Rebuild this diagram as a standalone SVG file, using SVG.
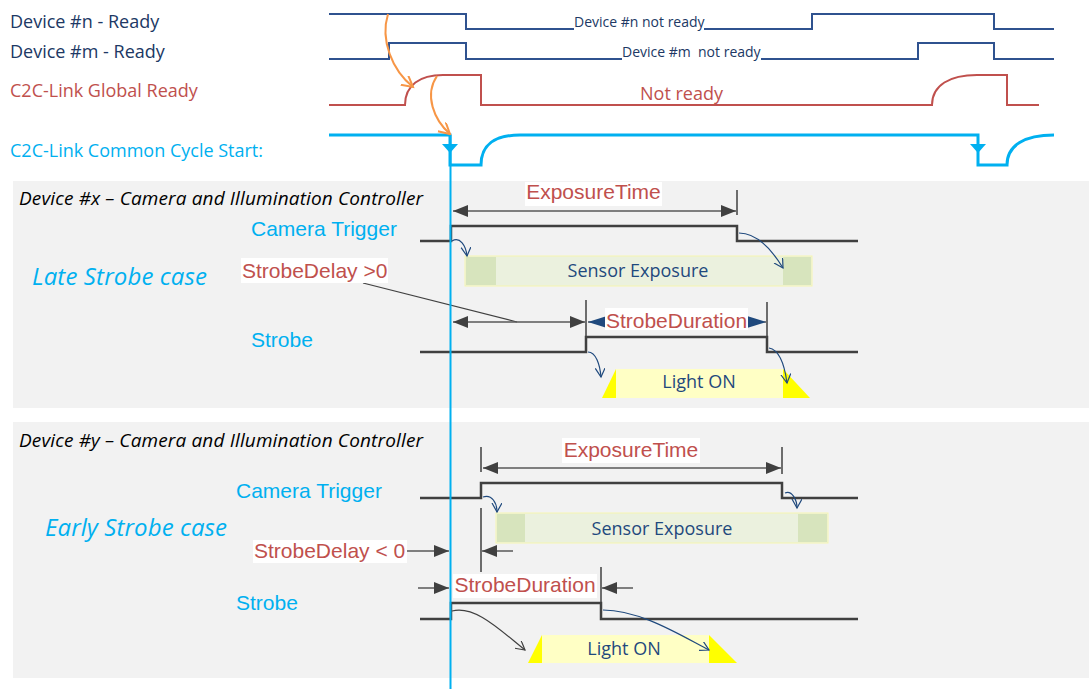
<svg xmlns="http://www.w3.org/2000/svg" width="1089" height="689" viewBox="0 0 1089 689">
<style>
.os{font-family:"Open Sans","Noto Sans","DejaVu Sans",sans-serif}
.ar{font-family:"Liberation Sans",Arial,sans-serif;font-size:21px}
.dk{fill:#203864}
.red{fill:#c0504d}
.cy{fill:#00b0f0}
.wb{fill:none;stroke:#2f528f;stroke-width:2}
.wr{fill:none;stroke:#c0504d;stroke-width:2}
.wc{fill:none;stroke:#00b0f0;stroke-width:3}
.wg{fill:none;stroke:#404040;stroke-width:2.5}
.dim{fill:none;stroke:#595959;stroke-width:1.5}
.tick{fill:none;stroke:#404040;stroke-width:1.5}
.cb{fill:none;stroke:#1f497d;stroke-width:1.2}
.cg{fill:none;stroke:#404040;stroke-width:1.2}
.co{fill:none;stroke:#f79646;stroke-width:2}
.lab{fill:#ffffff}
.gbar{fill:#ebf1de;stroke:#f5f5b0;stroke-width:1}
.gsq{fill:#d7e4bd}
.lmain{fill:#ffffc5}
.ltri{fill:#ffff00}
.pan{fill:#f2f2f2}
</style>
<defs>
<marker id="ahg" markerUnits="userSpaceOnUse" markerWidth="16" markerHeight="12" refX="15" refY="6" orient="auto-start-reverse"><path d="M0,0 L15,6 L0,12 Z" fill="#404040"/></marker>
<marker id="ahb" markerUnits="userSpaceOnUse" markerWidth="20" markerHeight="12" refX="19" refY="6" orient="auto-start-reverse"><path d="M0,0 L19,6 L0,12 Z" fill="#1f497d"/></marker>
<marker id="chb" markerUnits="userSpaceOnUse" markerWidth="12" markerHeight="12" refX="9" refY="5" orient="auto"><path d="M0,0 L9,5 L0,10" fill="none" stroke="#1f497d" stroke-width="1.2"/></marker>
<marker id="chg" markerUnits="userSpaceOnUse" markerWidth="12" markerHeight="12" refX="9" refY="5" orient="auto"><path d="M0,0 L9,5 L0,10" fill="none" stroke="#404040" stroke-width="1.2"/></marker>
<marker id="cho" markerUnits="userSpaceOnUse" markerWidth="14" markerHeight="14" refX="11" refY="6" orient="auto"><path d="M0,0 L11,6 L0,12" fill="none" stroke="#f79646" stroke-width="2"/></marker>
</defs>

<rect class="pan" x="13" y="181" width="1076" height="227"/>
<rect class="pan" x="13" y="422" width="1076" height="256"/>

<g id="labels-top" class="os" font-size="18">
<text x="10" y="28" class="dk">Device #n - Ready</text>
<text x="10" y="58" class="dk">Device #m - Ready</text>
<text x="10" y="97" class="red">C2C-Link Global Ready</text>
<text x="10" y="157" class="cy">C2C-Link Common Cycle Start:</text>
</g>

<g id="signal-n">
<path class="wb" d="M329,14 H466 V29 H574 M704,29 H812 V14 H994 V29 H1054"/>
<text class="os dk" font-size="14" x="574" y="27">Device #n not ready</text>
</g>
<g id="signal-m">
<path class="wb" d="M329,59 H389 V43 H466 V59 H622 M761,59 H918 V43 H994 V59 H1054"/>
<text class="os dk" font-size="14" x="622" y="57" xml:space="preserve">Device #m  not ready</text>
</g>
<g id="signal-global">
<path class="wr" d="M329,105 H405 C405,85 420,75 443,75 H481 V105 H932 C932,85 950,75 977,75 H1007 V105 H1039"/>
<text class="os red" font-size="18" x="640" y="100">Not ready</text>
</g>
<g id="signal-cycle">
<path class="wc" d="M329,135 H450 V165 H481 C481,145 495,135 520,135 H978 V165 H1007 C1007,145 1025,135 1054,135"/>
<polygon points="442,144 458,144 450,153" fill="#00b0f0"/>
<polygon points="970,144 986,144 978,153" fill="#00b0f0"/>
</g>

<g id="panel-x">
<text class="os" font-size="19" font-style="italic" x="19" y="205" fill="#000" textLength="404">Device #x – Camera and Illumination Controller</text>
<text class="os cy" font-size="24" font-style="italic" x="32" y="285" textLength="175">Late Strobe case</text>
<text class="ar cy" x="251" y="236">Camera Trigger</text>
<text class="ar cy" x="251" y="347">Strobe</text>
<path class="wg" d="M420,241 H451 V226 H737 V241 H858"/>
<path class="wg" d="M420,352 H586 V337 H767 V352 H858"/>
<g id="sensor-x">
<rect class="gbar" x="465" y="256" width="347" height="30"/>
<rect class="gsq" x="466" y="257" width="30" height="28"/>
<rect class="gsq" x="783" y="257" width="28" height="28"/>
<text class="os" font-size="18" x="638" y="277" text-anchor="middle" fill="#1f497d">Sensor Exposure</text>
</g>
<g id="light-x">
<rect class="lmain" x="616" y="369" width="167" height="29"/>
<polygon class="ltri" points="602,398 616,369 616,398"/>
<polygon class="ltri" points="783,369 783,398 810,398"/>
<text class="os" font-size="18" x="699" y="388" text-anchor="middle" fill="#1f497d">Light ON</text>
</g>
</g>

<g id="panel-y">
<text class="os" font-size="19" font-style="italic" x="19" y="447" fill="#000" textLength="404">Device #y – Camera and Illumination Controller</text>
<text class="os cy" font-size="24" font-style="italic" x="45" y="536" textLength="182">Early Strobe case</text>
<text class="ar cy" x="236" y="498">Camera Trigger</text>
<text class="ar cy" x="236" y="610">Strobe</text>
<path class="wg" d="M420,498 H481 V483 H782 V498 H858"/>
<path class="wg" d="M420,619 H451 V603 H601 V619 H858"/>
<g id="sensor-y">
<rect class="gbar" x="496" y="513" width="332" height="30"/>
<rect class="gsq" x="497" y="514" width="28" height="28"/>
<rect class="gsq" x="798" y="514" width="29" height="28"/>
<text class="os" font-size="18" x="662" y="535" text-anchor="middle" fill="#1f497d">Sensor Exposure</text>
</g>
<g id="light-y">
<rect class="lmain" x="542" y="635" width="167" height="28"/>
<polygon class="ltri" points="528,663 542,635 542,663"/>
<polygon class="ltri" points="709,635 709,663 737,663"/>
<text class="os" font-size="18" x="624" y="655" text-anchor="middle" fill="#1f497d">Light ON</text>
</g>
</g>

<g id="connectors">
<path class="co" d="M388,14 C380,40 392,70 413,87" marker-end="url(#cho)"/>
<path class="co" d="M437,76 C424,95 434,120 450,134" marker-end="url(#cho)"/>

<path class="dim" d="M453,211 H736" marker-start="url(#ahg)" marker-end="url(#ahg)"/>
<path class="tick" d="M737,190 V215"/>
<path class="cg" d="M363,283 L517,322"/>
<path class="dim" d="M453,322 H585" marker-start="url(#ahg)" marker-end="url(#ahg)"/>
<path class="tick" d="M586,300 V337"/>
<path class="dim" d="M588,322 H766" stroke="#1f497d" marker-start="url(#ahb)" marker-end="url(#ahb)"/>
<path class="tick" d="M767,302 V337" stroke="#1f497d"/>

<path class="cb" d="M452,241 C460,236 466,246 467,256" marker-end="url(#chb)"/>
<path class="cb" d="M739,233 C758,233 772,250 783,268" marker-end="url(#chb)"/>
<path class="cb" d="M588,352 C596,352 600,365 601,377" marker-end="url(#chb)"/>
<path class="cb" d="M769,348 C780,350 785,368 787,383" marker-end="url(#chb)"/>

<path class="dim" d="M483,468 H781" marker-start="url(#ahg)" marker-end="url(#ahg)"/>
<path class="tick" d="M481,447 V472 M481,508 V572"/>
<path class="tick" d="M782,447 V474"/>
<path class="dim" d="M407,551 H449" marker-end="url(#ahg)"/>
<path class="dim" d="M513,551 H482" stroke="#8c8c8c" marker-end="url(#ahg)"/>
<path class="dim" d="M418,588 H449" stroke="#8c8c8c" marker-end="url(#ahg)"/>
<path class="dim" d="M633,588 H602" stroke="#8c8c8c" marker-end="url(#ahg)"/>
<path class="tick" d="M601,567 V603"/>

<path class="cb" d="M483,497 C492,494 497,503 497,512" marker-end="url(#chb)"/>
<path class="cb" d="M785,493 C792,490 797,500 797,508" marker-end="url(#chb)"/>
<path class="cg" d="M452,611 C475,605 500,630 525,650" marker-end="url(#chg)"/>
<path class="cb" d="M603,610 C640,610 680,635 709,650" marker-end="url(#chb)"/>

<path d="M450.5,135 V689" stroke="#00b0f0" stroke-width="2" fill="none"/>
</g>

<g id="dim-labels" class="ar">
<rect class="lab" x="525" y="182" width="137" height="24"/>
<text class="red" x="593.5" y="199" text-anchor="middle">ExposureTime</text>
<rect class="lab" x="241" y="258" width="147" height="25"/>
<text class="red" x="242" y="278">StrobeDelay &gt;0</text>
<rect class="lab" x="605" y="308" width="143" height="22"/>
<text class="red" x="676.5" y="328" text-anchor="middle">StrobeDuration</text>
<rect class="lab" x="562" y="438" width="138" height="25"/>
<text class="red" x="631" y="457" text-anchor="middle">ExposureTime</text>
<rect class="lab" x="253" y="540" width="154" height="23"/>
<text class="red" x="254" y="558">StrobeDelay &lt; 0</text>
<rect class="lab" x="453" y="574" width="144" height="24"/>
<text class="red" x="525" y="592" text-anchor="middle">StrobeDuration</text>
</g>
</svg>
